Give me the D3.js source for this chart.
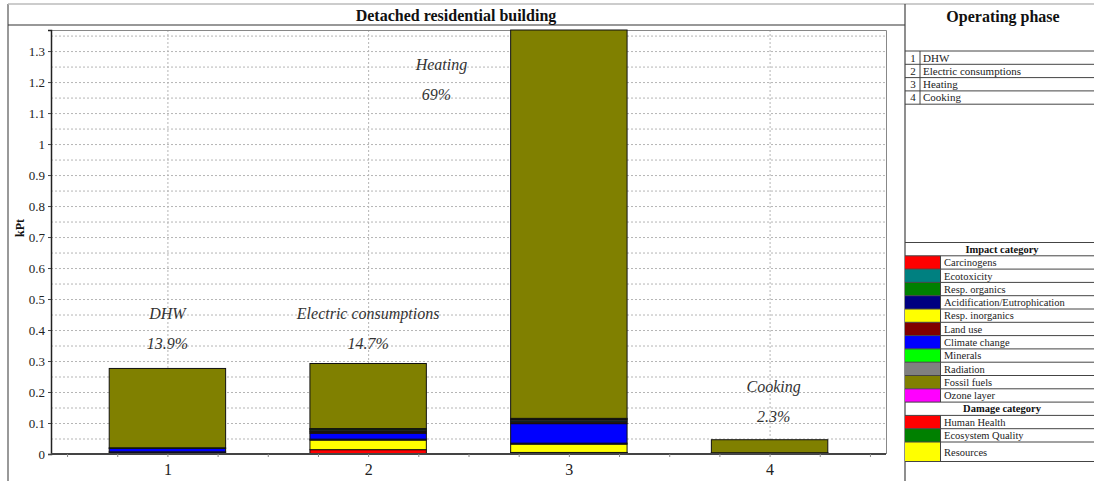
<!DOCTYPE html>
<html>
<head>
<meta charset="utf-8">
<script src="https://cdn.jsdelivr.net/npm/d3@7"></script>
<style>
  html, body { margin: 0; padding: 0; background: #fff; }
  svg { display: block; font-family: "Liberation Serif", "Times New Roman", serif; }
</style>
</head>
<body>
<svg id="chart" width="1094" height="481"></svg>
<script>
// Operating phases (x categories)
const phases = ["DHW", "Electric consumptions", "Heating", "Cooking"];
const phaseIds = [1, 2, 3, 4];

// Impact categories in legend order, with their colours
const impactNames = ["Carcinogens", "Ecotoxicity", "Resp. organics", "Acidification/Eutrophication",
  "Resp. inorganics", "Land use", "Climate change", "Minerals", "Radiation", "Fossil fuels", "Ozone layer"];
const impactColors = ["#ff0000", "#008080", "#008000", "#000080", "#ffff00", "#800000",
  "#0000ff", "#00ff00", "#808080", "#808000", "#ff00ff"];

// Damage categories
const damageNames = ["Human Health", "Ecosystem Quality", "Resources"];
const damageColors = ["#ff0000", "#008000", "#ffff00"];

// Scores per impact category (kPt) for DHW, Electric consumptions, Heating, Cooking
const carcinogens    = [0.001, 0.014, 0.004, 0.000];
const ecotoxicity    = [0.000, 0.003, 0.004, 0.000];
const respOrganics   = [0.000, 0.000, 0.001, 0.002];
const acidification  = [0.004, 0.003, 0.003, 0.001];
const respInorganics = [0.002, 0.031, 0.027, 0.001];
const landUse        = [0.000, 0.004, 0.005, 0.000];
const climateChange  = [0.011, 0.019, 0.063, 0.000];
const minerals       = [0.002, 0.002, 0.002, 0.000];
const radiation      = [0.000, 0.004, 0.004, 0.000];
const fossilFuels    = [0.256, 0.210, 1.253, 0.042];
const ozoneLayer     = [0.000, 0.002, 0.002, 0.000];

// Stacking order, bottom to top
const stackOrder = ["Carcinogens", "Resp. organics", "Resp. inorganics", "Acidification/Eutrophication",
  "Climate change", "Land use", "Ecotoxicity", "Radiation", "Ozone layer", "Minerals", "Fossil fuels"];

// Axis ticks
const yTicks = [0, 0.1, 0.2, 0.3, 0.4, 0.5, 0.6, 0.7, 0.8, 0.9, 1, 1.1, 1.2, 1.3];

const seriesByName = {
  "Carcinogens": carcinogens, "Ecotoxicity": ecotoxicity, "Resp. organics": respOrganics,
  "Acidification/Eutrophication": acidification, "Resp. inorganics": respInorganics,
  "Land use": landUse, "Climate change": climateChange, "Minerals": minerals,
  "Radiation": radiation, "Fossil fuels": fossilFuels, "Ozone layer": ozoneLayer
};
const colorOf = d3.scaleOrdinal().domain(impactNames).range(impactColors);

// Rows for d3.stack
const rows = phaseIds.map((id, i) => {
  const r = { id };
  stackOrder.forEach(k => { r[k] = seriesByName[k][i]; });
  return r;
});
const stacked = d3.stack().keys(stackOrder)(rows);
const totals = rows.map(r => d3.sum(stackOrder, k => r[k]));
const grand = d3.sum(totals);
const pct = v => { const s = (v / grand * 100).toFixed(1); return (s.endsWith(".0") ? s.slice(0, -2) : s) + "%"; };

const svg = d3.select("#chart");

// Plot geometry
const plot = { left: 51, right: 886, top: 30, bottom: 454 };

const x = d3.scaleLinear().domain([0.42, 4.58]).range([plot.left, plot.right]);
const y = d3.scaleLinear().domain([0, d3.max(totals)]).range([plot.bottom, plot.top]);
const barW = x(1.58) - x(1);

// Outer frame
svg.append("line").attr("x1", 8).attr("x2", 8).attr("y1", 4).attr("y2", 481)
  .attr("stroke", "#999").attr("stroke-width", 2);
svg.append("line").attr("x1", 8).attr("x2", 1094).attr("y1", 4).attr("y2", 4)
  .attr("stroke", "#bbb").attr("stroke-width", 1.5);
svg.append("line").attr("x1", 8).attr("x2", 905).attr("y1", 25).attr("y2", 25)
  .attr("stroke", "#333").attr("stroke-width", 1.2);
svg.append("line").attr("x1", 905).attr("x2", 905).attr("y1", 4).attr("y2", 481)
  .attr("stroke", "#444").attr("stroke-width", 1.2);

svg.append("text").attr("x", 456).attr("y", 21).attr("text-anchor", "middle")
  .attr("font-size", 16).attr("font-weight", "bold").attr("fill", "#111")
  .text("Detached residential building");

// Grid (every 0.05 horizontally, at each phase vertically)
const gridVals = d3.range(1, 28).map(i => i * 0.05);
svg.append("g").selectAll("line").data(gridVals).join("line")
  .attr("x1", plot.left).attr("x2", plot.right)
  .attr("y1", d => y(d) + 0.5).attr("y2", d => y(d) + 0.5)
  .attr("stroke", "#b5b5b5").attr("stroke-width", 1).attr("stroke-dasharray", "2,2");
svg.append("g").selectAll("line").data(phaseIds).join("line")
  .attr("x1", d => x(d) + 0.5).attr("x2", d => x(d) + 0.5)
  .attr("y1", plot.top).attr("y2", plot.bottom)
  .attr("stroke", "#b5b5b5").attr("stroke-width", 1).attr("stroke-dasharray", "2,2");

// Plot border (top/right)
svg.append("path")
  .attr("d", `M${plot.left},${plot.top + 0.5}H${plot.right + 0.5}V${plot.bottom}`)
  .attr("fill", "none").attr("stroke", "#888").attr("stroke-width", 1);

// Stacked bars
svg.append("g").selectAll("g").data(stacked).join("g")
  .attr("fill", d => colorOf(d.key))
  .selectAll("rect").data(d => d.filter(s => s[1] - s[0] > 0)).join("rect")
  .attr("x", d => x(d.data.id) - barW / 2)
  .attr("width", barW)
  .attr("y", d => y(d[1]))
  .attr("height", d => y(d[0]) - y(d[1]))
  .attr("stroke", "#111").attr("stroke-width", 1);

// Axes
const yAxis = d3.axisLeft(y).tickValues(yTicks).tickSize(3).tickPadding(3)
  .tickFormat(d => String(+d.toFixed(1)));
const gy = svg.append("g").attr("transform", `translate(${plot.left},0)`).call(yAxis);
gy.select(".domain").attr("stroke", "#222").attr("stroke-width", 1.5);
gy.selectAll(".tick line").attr("stroke", "#444");
gy.selectAll(".tick text").attr("font-size", 13).attr("fill", "#222")
  .attr("font-family", "Liberation Serif");

const xTickVals = d3.range(2, 19).map(i => i * 0.25);
const xAxis = d3.axisBottom(x).tickValues(xTickVals).tickSize(3).tickPadding(7)
  .tickFormat(d => Number.isInteger(d) ? String(d) : "");
const gx = svg.append("g").attr("transform", `translate(0,${plot.bottom})`).call(xAxis);
gx.select(".domain").attr("stroke", "#444").attr("stroke-width", 2)
  .attr("d", `M${plot.left},0H${plot.right}`);
gx.selectAll(".tick line").attr("stroke", "#888");
gx.selectAll(".tick text").attr("font-size", 16).attr("fill", "#222")
  .attr("font-family", "Liberation Serif");

svg.append("text").attr("transform", "translate(24,228) rotate(-90)")
  .attr("text-anchor", "middle").attr("font-size", 12).attr("font-weight", "bold")
  .attr("fill", "#111").text("kPt");

// Phase annotations: name and share of the total
const annoX = [1, 2, 2.365, 4.02];
const annoY = [0.435, 0.435, 1.24, 0.20];
const anno = svg.append("g").attr("font-style", "italic").attr("font-size", 16)
  .attr("fill", "#333").attr("text-anchor", "middle");
phases.forEach((p, i) => {
  anno.append("text").attr("x", x(annoX[i])).attr("y", y(annoY[i])).text(p);
  anno.append("text").attr("x", x(annoX[i]) - (i === 2 ? 5 : 0)).attr("y", y(annoY[i]) + 30).text(pct(totals[i]));
});

// Right panel
const rp = svg.append("g");
rp.append("text").attr("x", 1003).attr("y", 22).attr("text-anchor", "middle")
  .attr("font-size", 16).attr("font-weight", "bold").attr("fill", "#111").text("Operating phase");

const rowH = 13.3;
const opTop = 51;
phaseIds.forEach((id, i) => {
  const ty = opTop + i * rowH;
  rp.append("text").attr("x", 913).attr("y", ty + 10.5).attr("text-anchor", "middle")
    .attr("font-size", 11).attr("fill", "#222").text(id);
  rp.append("text").attr("x", 923).attr("y", ty + 10.5)
    .attr("font-size", 11).attr("fill", "#222").text(phases[i]);
});
d3.range(phaseIds.length + 1).forEach(i => {
  rp.append("line").attr("x1", 905).attr("x2", 1094)
    .attr("y1", opTop + i * rowH).attr("y2", opTop + i * rowH)
    .attr("stroke", "#444").attr("stroke-width", 1);
});
rp.append("line").attr("x1", 920).attr("x2", 920).attr("y1", opTop).attr("y2", opTop + phaseIds.length * rowH)
  .attr("stroke", "#444").attr("stroke-width", 1);

// Impact / damage legend
const lgTop = 242.5;
const lgRows = [{ header: "Impact category" }]
  .concat(impactNames.map((n, i) => ({ name: n, color: impactColors[i] })))
  .concat([{ header: "Damage category" }])
  .concat(damageNames.map((n, i) => ({ name: n, color: damageColors[i] })));
let cy = lgTop;
lgRows.forEach((r, i) => {
  const h = (i === lgRows.length - 1) ? 19.5 : rowH;
  if (r.header) {
    rp.append("text").attr("x", 1002).attr("y", cy + 10).attr("text-anchor", "middle")
      .attr("font-size", 10.5).attr("font-weight", "bold").attr("fill", "#111").text(r.header);
  } else {
    rp.append("rect").attr("x", 905).attr("y", cy).attr("width", 35).attr("height", h)
      .attr("fill", r.color);
    rp.append("line").attr("x1", 940.5).attr("x2", 940.5).attr("y1", cy).attr("y2", cy + h)
      .attr("stroke", "#444").attr("stroke-width", 1);
    rp.append("text").attr("x", 944).attr("y", cy + h / 2 + 3.8)
      .attr("font-size", 10.5).attr("fill", "#222").text(r.name);
  }
  rp.append("line").attr("x1", 905).attr("x2", 1094).attr("y1", cy).attr("y2", cy)
    .attr("stroke", "#444").attr("stroke-width", 1);
  cy += h;
});
rp.append("line").attr("x1", 905).attr("x2", 1094).attr("y1", cy).attr("y2", cy)
  .attr("stroke", "#444").attr("stroke-width", 1);
</script>
</body>
</html>
